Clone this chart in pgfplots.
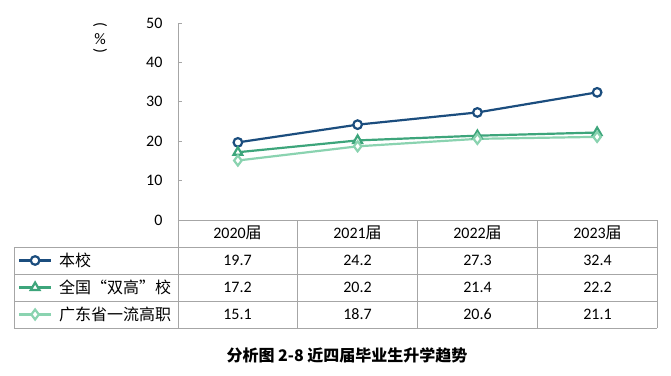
\documentclass[border=0pt]{standalone}
\usepackage{pgfplots}
\pgfplotsset{compat=1.18}
\usepackage{fontspec}
\setmainfont{Carlito}
\newfontfamily\cjk{Noto Sans CJK SC}
\definecolor{cnavy}{HTML}{1B4D7E}
\definecolor{cgreen}{HTML}{3DA57B}
\definecolor{clight}{HTML}{8AD3B0}
\definecolor{cgrid}{HTML}{A6A6A6}
\begin{document}
\fontsize{16}{19}\selectfont
\begin{tikzpicture}[x=1pt,y=1pt]
\path (-178,-155) rectangle (493,220);
\begin{axis}[
  at={(0,0)}, anchor=south west,
  scale only axis, width=479pt, height=197pt,
  xmin=-0.5, xmax=3.5, ymin=0, ymax=50,
  xtick=\empty, ytick={0,10,...,50},
  axis x line=bottom, axis y line=left,
  axis line style={cgrid, line width=0.8pt, -},
  tick align=inside, major tick length=4pt,
  tick style={cgrid, line width=0.8pt},
  /pgf/number format/assume math mode=true,
  yticklabel style={font=\fontsize{16}{19}\selectfont, xshift=-10pt, text=black},
  clip=false,
  legend cell align=left,
  legend style={at={(-0.334,-0.137)}, anchor=north west, draw=none, fill=none,
    inner sep=0pt, outer sep=0pt, row sep=0pt,
    nodes={inner sep=0pt, minimum height=27pt, font=\cjk\fontsize{16}{19}\selectfont},
    /tikz/every odd column/.append style={column sep=7pt}},
  legend image code/.code={\draw[mark repeat=2,mark phase=2] plot coordinates {(0pt,0pt) (16pt,0pt) (32pt,0pt)};},
]
\addplot[cnavy, line width=2.2pt, mark=*, mark size=4.3pt, mark options={fill=white, draw=cnavy, line width=2.2pt}]
  coordinates {(0,19.7) (1,24.2) (2,27.3) (3,32.4)};
\addlegendentry{本校}
\addplot[cgreen, line width=2.2pt, mark=triangle*, mark size=5pt, mark options={fill=white, draw=cgreen, line width=2.2pt}]
  coordinates {(0,17.2) (1,20.2) (2,21.4) (3,22.2)};
\addlegendentry{全国“双高”校}
\addplot[clight, line width=2.2pt, mark=diamond*, mark size=5pt, mark options={fill=white, draw=clight, line width=2.2pt}]
  coordinates {(0,15.1) (1,18.7) (2,20.6) (3,21.1)};
\addlegendentry{广东省一流高职}
\end{axis}
% table grid
\begin{scope}[cgrid, line width=0.8pt]
\draw (0,0) -- (479,0);
\foreach \y in {-27,-54,-81,-108} \draw (-164,\y) -- (479,\y);
\draw (-164,-27) -- (-164,-108);
\foreach \x in {0,119,239,359,479} \draw (\x,0) -- (\x,-108);
\end{scope}
% header
\foreach \x/\t in {59.5/2020,179.5/2021,299.5/2022,419.5/2023}
  \node[anchor=base, inner sep=0pt] at (\x,-18.5) {\t{\cjk 届}};
\foreach \x/\t in {59.5/19.7,179.5/24.2,299.5/27.3,419.5/32.4}
  \node[anchor=base, inner sep=0pt] at (\x,-45.5) {\t};
\foreach \x/\t in {59.5/17.2,179.5/20.2,299.5/21.4,419.5/22.2}
  \node[anchor=base, inner sep=0pt] at (\x,-72.5) {\t};
\foreach \x/\t in {59.5/15.1,179.5/18.7,299.5/20.6,419.5/21.1}
  \node[anchor=base, inner sep=0pt] at (\x,-99.5) {\t};
% unit label
\node[rotate=-90, inner sep=0pt] at (-78,195) {(};
\node[inner sep=0pt] at (-78,181) {\%};
\node[rotate=-90, inner sep=0pt] at (-78,169) {)};
% caption
\node[inner sep=0pt] at (169,-135) {\cjk\bfseries 分析图 2-8 近四届毕业生升学趋势};
\end{tikzpicture}
\end{document}
